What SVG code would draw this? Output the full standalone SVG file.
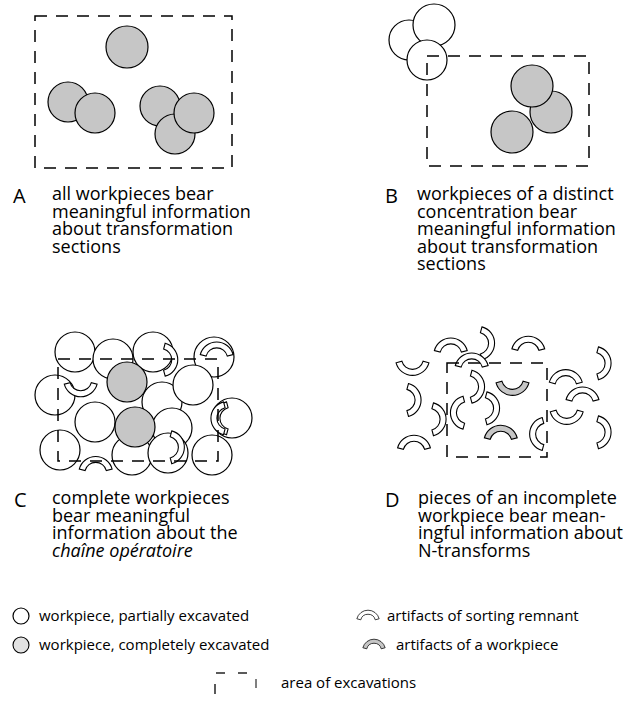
<svg xmlns="http://www.w3.org/2000/svg" width="641" height="701" viewBox="0 0 641 701">
<defs>
<style>
.wp{fill:#fff;stroke:#000;stroke-width:1.2}
.gp{fill:#c6c6c6;stroke:#000;stroke-width:1.2}
.box{fill:none;stroke:#000;stroke-width:1.5;stroke-dasharray:12 9}
.art{fill:#fff;stroke:#000;stroke-width:1.1}
.gart{fill:#c6c6c6;stroke:#000;stroke-width:1.1}
text{font-family:"Open Sans",Lato,"DejaVu Sans",sans-serif;font-size:18px;fill:#000}
.lt{font-size:20px}
.lg{font-size:15px}
</style>
<path id="arc" d="M -16.42,5.53 A 17 17 0 0 1 16.42,5.53 L 10.63,7.08 A 11 11 0 0 0 -10.63,7.08 Z"/>
</defs>
<rect width="641" height="701" fill="#fff"/>

<g id="panelA">
  <circle class="gp" cx="127" cy="47" r="21"/>
  <circle class="gp" cx="68" cy="102" r="20"/>
  <circle class="gp" cx="95" cy="113" r="20"/>
  <circle class="gp" cx="160" cy="106" r="20"/>
  <circle class="gp" cx="175" cy="134" r="20"/>
  <circle class="gp" cx="194" cy="113" r="20"/>
  <rect class="box" x="35" y="16" width="197" height="152"/>
  <text x="13" y="203" class="lt">A</text>
  <text x="52" y="200">all workpieces bear</text>
  <text x="52" y="217.5">meaningful information</text>
  <text x="52" y="235">about transformation</text>
  <text x="52" y="252.5">sections</text>
</g>

<g id="panelB">
  <circle class="wp" cx="409" cy="40" r="20"/>
  <circle class="wp" cx="434" cy="25" r="21"/>
  <circle class="wp" cx="427" cy="60" r="20"/>
  <circle class="gp" cx="551" cy="112" r="21"/>
  <circle class="gp" cx="532" cy="86" r="21"/>
  <circle class="gp" cx="512" cy="132" r="21"/>
  <rect class="box" x="427" y="56" width="162" height="110"/>
  <text x="385" y="203" class="lt">B</text>
  <text x="417" y="200">workpieces of a distinct</text>
  <text x="417" y="217.5">concentration bear</text>
  <text x="417" y="235">meaningful information</text>
  <text x="417" y="252.5">about transformation</text>
  <text x="417" y="270">sections</text>
</g>

<g id="panelC">
  <circle class="wp" cx="75" cy="352" r="20"/>
  <circle class="wp" cx="153" cy="352" r="20"/>
  <circle class="wp" cx="113" cy="359" r="20"/>
  <circle class="wp" cx="214" cy="357" r="20"/>
  <circle class="wp" cx="55" cy="395" r="20"/>
  <circle class="wp" cx="162" cy="402" r="20"/>
  <circle class="wp" cx="172" cy="428" r="20"/>
  <circle class="wp" cx="193" cy="385" r="20"/>
  <circle class="wp" cx="95" cy="422" r="20"/>
  <circle class="wp" cx="232" cy="418" r="20"/>
  <circle class="wp" cx="60" cy="450" r="20"/>
  <circle class="wp" cx="132" cy="455" r="20"/>
  <circle class="wp" cx="212" cy="455" r="20"/>
  <circle class="wp" cx="168" cy="453" r="20"/>
  <circle class="gp" cx="127" cy="382" r="20"/>
  <circle class="gp" cx="135" cy="427" r="20"/>
  <use href="#arc" class="art" transform="translate(216.7,349)"/>
  <use href="#arc" class="art" transform="translate(170.7,359.7) rotate(90)"/>
  <use href="#arc" class="art" transform="translate(80.7,389.7) rotate(180)"/>
  <use href="#arc" class="art" transform="translate(221,418.3) rotate(-90)"/>
  <use href="#arc" class="art" transform="translate(218,418.3) rotate(-90)"/>
  <use href="#arc" class="art" transform="translate(177.3,447.3) rotate(90)"/>
  <use href="#arc" class="art" transform="translate(95.7,463.5)"/>
  <rect class="box" x="58" y="359" width="160" height="102"/>
  <text x="14" y="507" class="lt">C</text>
  <text x="52" y="504">complete workpieces</text>
  <text x="52" y="521.5">bear meaningful</text>
  <text x="52" y="539">information about the</text>
  <text x="52" y="556.5" font-style="italic">chaîne opératoire</text>
</g>

<g id="panelD">
  <use href="#arc" class="art" transform="translate(450.8,345)"/>
  <use href="#arc" class="art" transform="translate(487.5,343.3) rotate(90)"/>
  <use href="#arc" class="art" transform="translate(528.3,343.3)"/>
  <use href="#arc" class="art" transform="translate(412.5,368.3) rotate(180)"/>
  <use href="#arc" class="art" transform="translate(471.7,360)"/>
  <use href="#arc" class="art" transform="translate(604,363.3) rotate(90)"/>
  <use href="#arc" class="art" transform="translate(477.5,386.7) rotate(90)"/>
  <use href="#arc" class="gart" transform="translate(512.5,388.3) rotate(180)"/>
  <use href="#arc" class="art" transform="translate(565.8,376.7)"/>
  <use href="#arc" class="art" transform="translate(582.5,394)"/>
  <use href="#arc" class="art" transform="translate(414,400) rotate(90)"/>
  <use href="#arc" class="art" transform="translate(457.5,412.7) rotate(-90)"/>
  <use href="#arc" class="art" transform="translate(439,419.3) rotate(90)"/>
  <use href="#arc" class="art" transform="translate(492.5,408.3) rotate(90)"/>
  <use href="#arc" class="art" transform="translate(566.7,417.3) rotate(180)"/>
  <use href="#arc" class="art" transform="translate(604,432.3) rotate(90)"/>
  <use href="#arc" class="gart" transform="translate(500.8,432.3)"/>
  <use href="#arc" class="art" transform="translate(536.7,434) rotate(-90)"/>
  <use href="#arc" class="art" transform="translate(414,442.3)"/>
  <rect class="box" x="447" y="363" width="100" height="94"/>
  <text x="385" y="507" class="lt">D</text>
  <text x="418" y="504">pieces of an incomplete</text>
  <text x="418" y="521.5">workpiece bear mean-</text>
  <text x="418" y="539">ingful information about</text>
  <text x="418" y="556.5">N-transforms</text>
</g>

<g id="legend">
  <g id="leg-partial">
    <circle class="wp" cx="21" cy="616" r="8"/>
    <text x="39" y="621" class="lg">workpiece, partially excavated</text>
  </g>
  <g id="leg-complete">
    <circle cx="21" cy="645" r="8" fill="#e2e2e2" stroke="#000" stroke-width="1.1"/>
    <text x="39" y="650" class="lg">workpiece, completely excavated</text>
  </g>
  <g id="leg-sorting">
    <use href="#arc" class="art" transform="translate(368,615) scale(0.68)"/>
    <text x="387" y="621" class="lg">artifacts of sorting remnant</text>
  </g>
  <g id="leg-artifact">
    <use href="#arc" class="gart" transform="translate(374,644) scale(0.68)"/>
    <text x="396" y="650" class="lg">artifacts of a workpiece</text>
  </g>
  <g id="leg-area">
    <line x1="216" y1="673" x2="225" y2="673" stroke="#000" stroke-width="1.3"/>
    <line x1="238" y1="673" x2="247" y2="673" stroke="#000" stroke-width="1.3"/>
    <line x1="215" y1="684" x2="215" y2="694" stroke="#000" stroke-width="1.3"/>
    <line x1="256" y1="679" x2="256" y2="688" stroke="#000" stroke-width="1"/>
    <text x="281" y="688" class="lg">area of excavations</text>
  </g>
</g>
</svg>
